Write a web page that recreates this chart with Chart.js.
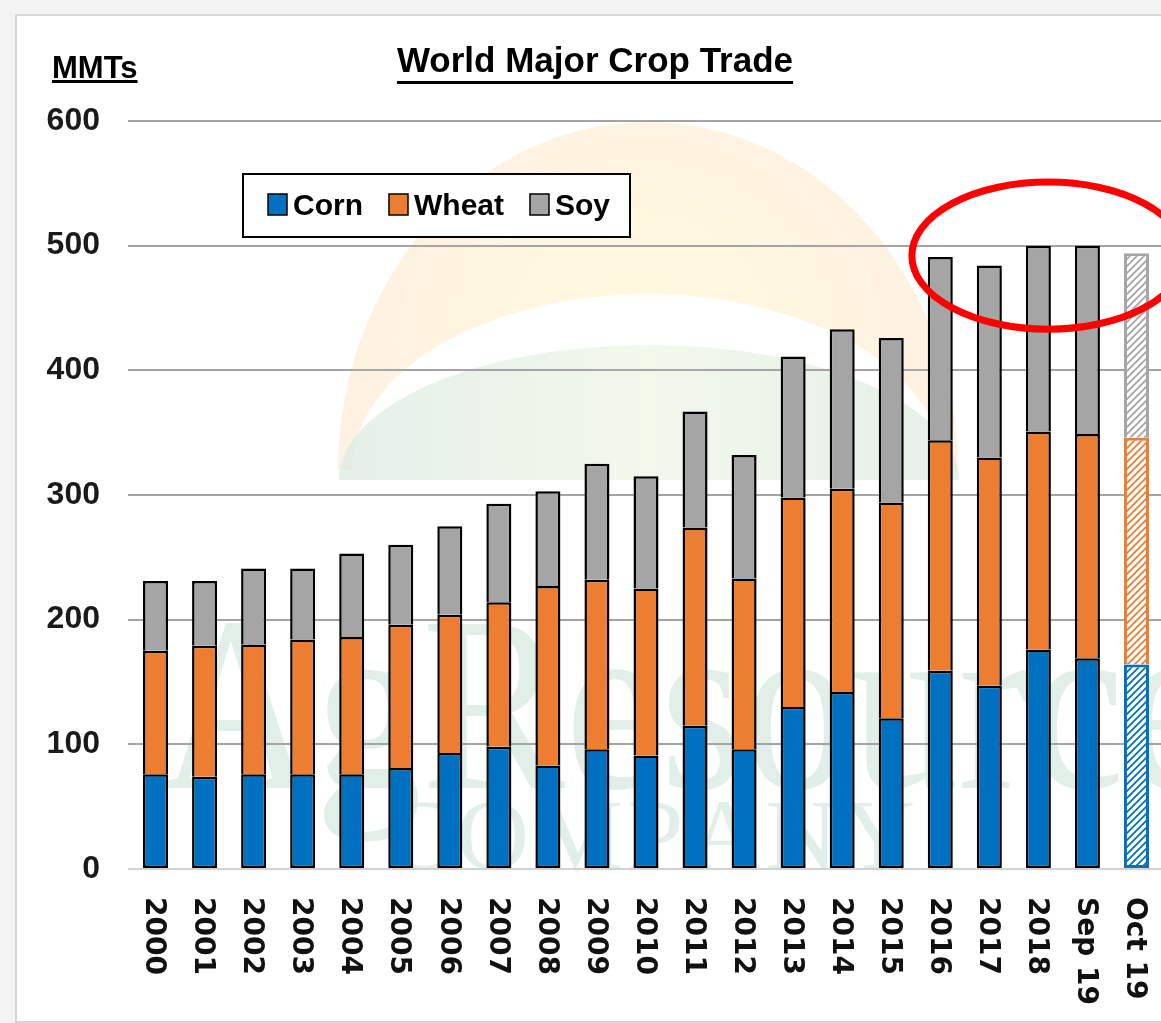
<!DOCTYPE html>
<html>
<head>
<meta charset="utf-8">
<title>World Major Crop Trade</title>
<script src="https://cdn.jsdelivr.net/npm/chart.js@4.4.1/dist/chart.umd.min.js"></script>
<style>
  html, body { margin: 0; padding: 0; background: #f3f3f3; overflow: hidden; }
  #marco { position: absolute; left: 15px; top: 14px; width: 1200px; height: 1005px; background: #fff; border: 2px solid #d6d6d6; }
  #grafico { position: absolute; left: 0; top: 0; }
</style>
</head>
<body>
<div id="marco"></div>
<canvas id="grafico" width="1161" height="1023"></canvas>
<script>
(function () {

  // datos (MMT)
  const categorias = ['2000', '2001', '2002', '2003', '2004', '2005', '2006', '2007', '2008', '2009',
    '2010', '2011', '2012', '2013', '2014', '2015', '2016', '2017', '2018', 'Sep 19', 'Oct 19'];
  const corn  = [76, 74, 76, 76, 76, 81, 93, 98, 83, 96, 91, 115, 96, 130, 142, 121, 159, 147, 176, 169, 164];
  const wheat = [99, 105, 104, 108, 110, 115, 111, 116, 144, 136, 134, 159, 137, 168, 163, 173, 185, 183, 175, 180, 182];
  const soy   = [56, 52, 61, 57, 67, 64, 71, 79, 76, 93, 90, 93, 99, 113, 128, 132, 147, 154, 149, 151, 148];
  const ticksY = [0, 100, 200, 300, 400, 500, 600];
  const proyectados = ['Oct 19'];

  const colores = { corn: '#0070C0', wheat: '#ED7D31', soy: '#A5A5A5' };
  const fuente = '"Liberation Sans", Arial, sans-serif';

  const canvas = document.getElementById('grafico');
  const ctx = canvas.getContext('2d');

  function rayado(color) {
    const c = document.createElement('canvas');
    c.width = 7; c.height = 7;
    const g = c.getContext('2d');
    g.fillStyle = '#fff';
    g.fillRect(0, 0, 7, 7);
    g.strokeStyle = color;
    g.lineWidth = 1.8;
    g.beginPath();
    g.moveTo(0, 7); g.lineTo(7, 0);
    g.moveTo(-2, 2); g.lineTo(2, -2);
    g.moveTo(5, 9); g.lineTo(9, 5);
    g.stroke();
    return ctx.createPattern(c, 'repeat');
  }

  function serie(label, valores, color, primera) {
    const trama = rayado(color);
    return {
      label: label,
      data: valores,
      colorBase: color,
      backgroundColor: categorias.map(c => proyectados.includes(c) ? trama : color),
      borderColor: categorias.map(c => proyectados.includes(c) ? color : '#000'),
      borderWidth: categorias.map(c => proyectados.includes(c) ? 3 : 2.5),
      borderSkipped: primera ? false : 'bottom',
      barPercentage: 0.51,
      categoryPercentage: 1.0
    };
  }

  // fondo: logo tenue
  const marcaAgua = {
    id: 'marcaAgua',
    beforeDraw(chart) {
      const c = chart.ctx;
      c.save();
      // sol
      let gr = c.createRadialGradient(640, 330, 20, 640, 380, 330);
      gr.addColorStop(0, 'rgba(255,248,215,0.85)');
      gr.addColorStop(1, 'rgba(253,236,214,0.7)');
      c.fillStyle = gr;
      c.beginPath();
      c.ellipse(648, 470, 310, 348, 0, Math.PI, 2 * Math.PI);
      c.ellipse(648, 470, 296, 176, 0, 2 * Math.PI, Math.PI, true);
      c.closePath();
      c.fill();
      // loma verde
      gr = c.createLinearGradient(340, 0, 958, 0);
      gr.addColorStop(0, 'rgba(220,235,226,0.75)');
      gr.addColorStop(0.5, 'rgba(238,245,228,0.75)');
      gr.addColorStop(1, 'rgba(220,235,226,0.75)');
      c.fillStyle = gr;
      c.beginPath();
      c.ellipse(649, 480, 310, 135, 0, Math.PI, 2 * Math.PI);
      c.closePath();
      c.fill();
      // texto
      c.fillStyle = 'rgba(216,233,224,0.75)';
      c.font = '200px "Liberation Serif", serif';
      c.textBaseline = 'alphabetic';
      const w = c.measureText('AgResource').width;
      c.save();
      c.translate(160, 788);
      c.scale(1060 / w, 1.25);
      c.fillText('AgResource', 0, 0);
      c.restore();
      c.font = '100px "Liberation Serif", serif';
      const letras = 'COMPANY'.split('');
      const anchos = letras.map(l => c.measureText(l).width);
      const total = anchos.reduce((a, b) => a + b, 0);
      const hueco = (530 - total) / (letras.length - 1);
      let x = 385;
      letras.forEach((l, i) => { c.fillText(l, x, 868); x += anchos[i] + hueco; });
      c.restore();
    }
  };

  const extras = {
    id: 'extras',
    afterDraw(chart) {
      const c = chart.ctx;
      const xs = chart.scales.x;
      const ys = chart.scales.y;
      const area = chart.chartArea;
      c.save();

      // titulo y unidades
      c.fillStyle = '#000';
      c.textBaseline = 'alphabetic';
      c.font = 'bold 35px ' + fuente;
      c.textAlign = 'center';
      const t = 'World Major Crop Trade';
      const tw = c.measureText(t).width;
      c.fillText(t, 595, 72);
      c.fillRect(595 - tw / 2, 81, tw, 3);
      c.font = 'bold 31px ' + fuente;
      c.textAlign = 'left';
      const mw = c.measureText('MMTs').width;
      c.fillText('MMTs', 52, 78);
      c.fillRect(52, 80, mw, 3);

      // etiquetas del eje x giradas
      c.font = 'bold 28px "DejaVu Sans", sans-serif';
      c.fillStyle = '#111';
      c.textAlign = 'left';
      c.textBaseline = 'middle';
      categorias.forEach((lab, i) => {
        c.save();
        c.translate(xs.getPixelForValue(i) - 2, area.bottom + 28);
        c.rotate(Math.PI / 2);
        c.fillText(lab, 0, 0);
        c.restore();
      });

      // leyenda
      c.fillStyle = '#fff';
      c.fillRect(243, 174, 387, 63);
      c.strokeStyle = '#000';
      c.lineWidth = 2;
      c.strokeRect(243, 174, 387, 63);
      c.font = 'bold 30px ' + fuente;
      c.textBaseline = 'alphabetic';
      let lx = 268;
      chart.data.datasets.forEach(ds => {
        c.fillStyle = ds.colorBase;
        c.fillRect(lx, 194, 19, 21);
        c.lineWidth = 1.5;
        c.strokeStyle = '#000';
        c.strokeRect(lx, 194, 19, 21);
        c.fillStyle = '#000';
        c.fillText(ds.label, lx + 25, 215);
        lx += 25 + c.measureText(ds.label).width + 26;
      });

      // elipse roja de resaltado
      const cx = xs.getPixelForValue(18.2);
      const cy = ys.getPixelForValue(492);
      const rx = xs.getPixelForValue(21) - xs.getPixelForValue(18.2);
      const ry = ys.getPixelForValue(433) - cy;
      c.strokeStyle = '#ff0000';
      c.lineWidth = 7;
      c.beginPath();
      c.ellipse(cx, cy, rx - 1, ry, 0, 0, 2 * Math.PI);
      c.stroke();
      c.restore();
    }
  };

  new Chart(canvas, {
    type: 'bar',
    data: {
      labels: categorias,
      datasets: [
        serie('Corn', corn, colores.corn, true),
        serie('Wheat', wheat, colores.wheat, false),
        serie('Soy', soy, colores.soy, false)
      ]
    },
    options: {
      responsive: false,
      animation: false,
      devicePixelRatio: 1,
      layout: { padding: { top: 121, left: 0, right: 0, bottom: 0 } },
      plugins: {
        legend: { display: false },
        title: { display: false },
        tooltip: { enabled: false }
      },
      scales: {
        x: {
          stacked: true,
          grid: { display: false },
          border: { display: false },
          ticks: { display: false },
          afterFit(s) { s.height = 154; s.paddingLeft = 0; s.paddingRight = 0; }
        },
        y: {
          stacked: true,
          min: 0,
          max: 600,
          afterBuildTicks(s) { s.ticks = ticksY.map(v => ({ value: v })); },
          afterFit(s) { s.width = 131; s.paddingTop = 0; s.paddingBottom = 0; },
          border: { display: false },
          grid: {
            color: c => c.tick && c.tick.value === 0 ? '#d2d2d2' : '#a4a4a4',
            lineWidth: 2,
            tickLength: 3
          },
          ticks: {
            padding: 28,
            color: '#1a1a1a',
            font: { family: fuente, weight: 'bold', size: 32 }
          }
        }
      }
    },
    plugins: [marcaAgua, extras]
  });

})();
</script>
</body>
</html>
